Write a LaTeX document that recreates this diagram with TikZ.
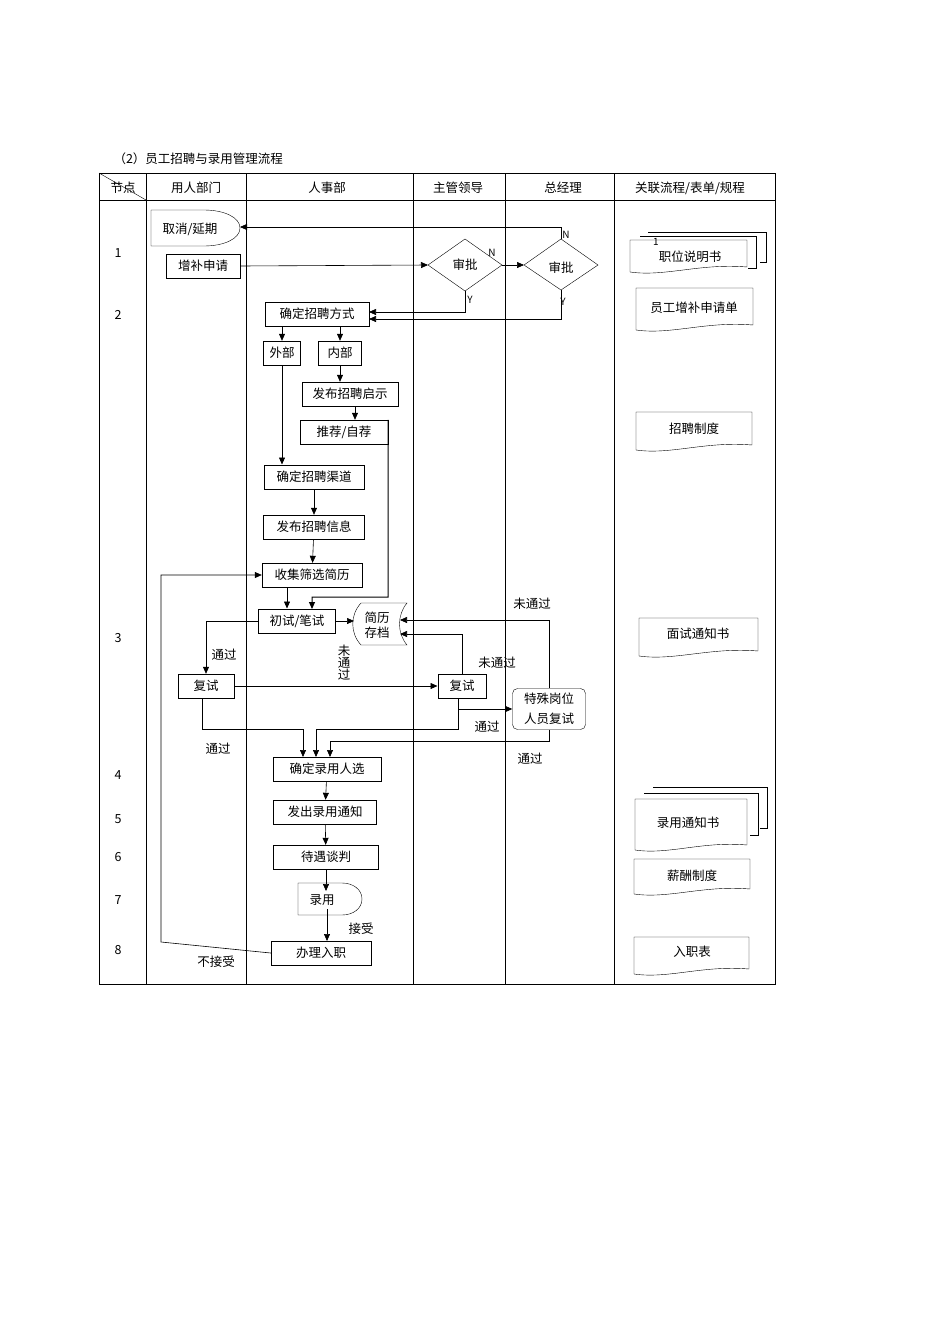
\documentclass[tikz,border=0pt]{standalone}
\usepackage{fontspec}
\setmainfont{Noto Sans CJK SC}
\usetikzlibrary{arrows.meta}
\newcommand\DocShape[4]{% x1 y1 x2 y2
  \draw (#1,#2) -- (#3,#2) -- (#3,{#4-6}) .. controls ({#1+0.6*(#3-#1)},{#4-10}) and ({#1+0.3*(#3-#1)},{#4+4}) .. (#1,{#4-1}) -- cycle;}
\newcommand\DelayShape[5]{% x1 y1 x2 y2 rx
  \draw (#1,#2) -- ({#3-#5},#2) .. controls ({#3-0.45*#5},#2) and (#3,{#2+0.2*(#4-#2)}) .. (#3,{(#2+#4)/2})
   .. controls (#3,{#4-0.2*(#4-#2)}) and ({#3-0.45*#5},#4) .. ({#3-#5},#4) -- (#1,#4) -- cycle;}
\begin{document}
\begin{tikzpicture}[x=1pt,y=-1pt,
  every node/.style={font=\fontsize{12.5}{14}\selectfont},
  box/.style={draw,inner sep=0pt,minimum height=24pt},
  lab/.style={inner sep=1pt},
  arr/.style={-{Triangle[length=7pt,width=6pt]}},
  ln/.style={line width=0.6pt}]
\useasboundingbox (0,0) rectangle (950,1344);
% title
\node[anchor=west] (title) at (110,159) {（2）员工招聘与录用管理流程};
% table
\draw[line width=1pt] (99,173) rectangle (775,984);
\draw (99,200) -- (775,200);
\foreach \x in {146,246,413,505,614} \draw (\x,173) -- (\x,984);
\draw (99,173) -- (146,200);
\node (h0) at (123,188) {节点};
\node (h1) at (196,188) {用人部门};
\node (h2) at (327,188) {人事部};
\node (h3) at (458,188) {主管领导};
\node (h4) at (563,188) {总经理};
\node (h5) at (690,188) {关联流程/表单/规程};
\foreach \n/\y in {1/253,2/315,3/638,4/775,5/819,6/857,7/900,8/950} \node (r\n) at (118,\y) {\n};
% cancel / 录用 delay shapes
\DelayShape{151}{210}{240}{246}{36}
\node (cancel) at (190,229) {取消/延期};
\coordinate (cancelE) at (240,227);
\node[box,minimum width=74pt] (zb) at (203,266) {增补申请};
\draw (428,265) -- (465,239) -- (502,265) -- (465,291) -- cycle;
\node (d1) at (465,265) {审批};
\coordinate (d1W) at (428,265); \coordinate (d1E) at (502,265); \coordinate (d1S) at (465,291);
\draw (524,265) -- (561,239) -- (598,265) -- (561,290) -- cycle;
\node (d2) at (561,268) {审批};
\coordinate (d2W) at (524,265); \coordinate (d2N) at (561,239); \coordinate (d2S) at (561,290);
\node[lab,font=\fontsize{10}{11}\selectfont] (n1) at (492,253) {N};
\node[lab,font=\fontsize{10}{11}\selectfont] (n2) at (566,235) {N};
\node[lab,font=\fontsize{10}{11}\selectfont] (y1) at (470,300) {Y};
\node[lab,font=\fontsize{10}{11}\selectfont] (y2) at (563,302) {Y};
\node[box,minimum width=104pt,line width=1pt] (fs) at (317,314) {确定招聘方式};
\coordinate (fsA) at (369,312); \coordinate (fsB) at (369,319);
\node[box,minimum width=37pt] (wb) at (282,353) {外部};
\node[box,minimum width=43pt] (nb) at (340,353) {内部};
\node[box,minimum width=96pt] (fb) at (350,394) {发布招聘启示};
\node[box,minimum width=88pt] (tj) at (344,432) {推荐/自荐};
\node[box,minimum width=100pt,line width=1pt] (qd) at (314,477) {确定招聘渠道};
\node[box,minimum width=101pt] (xx) at (314,527) {发布招聘信息};
\node[box,minimum width=100pt] (sj) at (312,575) {收集筛选简历};
\node[box,minimum width=77pt,line width=1pt] (cs) at (297,621) {初试/笔试};
% storage
\draw (361,603) -- (407,603) .. controls (397,615) and (397,633) .. (407,645) -- (361,645) .. controls (350,633) and (350,615) .. (361,603) -- cycle;
\node[align=center,font=\fontsize{12.5}{15}\selectfont] (store) at (377,625) {简历\\存档};
\coordinate (stA) at (400,620); \coordinate (stB) at (400,634);
\node[box,minimum width=56pt] (fs1) at (206,686) {复试};
\node[box,minimum width=48pt,line width=1pt] (fs2) at (462,686) {复试};
\node[draw,rounded corners=5pt,align=center,minimum width=73pt,minimum height=41pt,inner sep=0pt,font=\fontsize{12.5}{20}\selectfont] (ts) at (549,709) {特殊岗位\\人员复试};
\node[box,minimum width=108pt] (ly) at (327,769) {确定录用人选};
\node[box,minimum width=103pt] (fc) at (325,812) {发出录用通知};
\node[box,minimum width=105pt] (dy) at (326,857) {待遇谈判};
\DelayShape{298}{883}{362}{915}{20}
\node (lu) at (322,900) {录用};
\node[box,minimum width=100pt] (bl) at (321,953) {办理入职};
% labels
\node[lab] (l1) at (224,655) {通过};
\node[lab,align=center,font=\fontsize{12.5}{12}\selectfont] (l2) at (344,663) {未\\通\\过};
\node[lab] (l3) at (497,663) {未通过};
\node[lab] (l4) at (532,604) {未通过};
\node[lab] (l5) at (487,727) {通过};
\node[lab] (l6) at (218,749) {通过};
\node[lab] (l7) at (530,759) {通过};
\node[lab] (l8) at (361,929) {接受};
\node[lab] (l9) at (216,962) {不接受};
% connectors
\begin{scope}[ln]
\draw[arr] (d2N) |- (cancelE);
\draw[arr] (zb.east) -- (d1W);
\draw[arr] (d1E) -- (d2W);
\draw[arr] (d1S) |- (fsA);
\draw[arr] (d2S) |- (fsB);
\draw[arr] (wb|-fs.south) -- (wb.north);
\draw[arr] (nb|-fs.south) -- (nb.north);
\draw[arr] (nb.south) -- (nb|-fb.north);
\draw[arr] ([xshift=5pt]fb.south) -- ([xshift=5pt]fb.south|-tj.north);
\draw[arr] (wb.south) -- (wb.south|-qd.north);
\draw[arr] (qd) -- (xx);
\draw[arr] (xx) -- (sj);
\coordinate (tjc) at (388,597); \coordinate (csin) at (312,609);
\draw[arr,line width=1pt] (tj.north east) -- (tjc) -| (csin);
\draw[arr] ([xshift=-25pt]sj.south) -- ([xshift=-25pt]sj.south|-cs.north);
\draw[arr] (cs.east) -- (354,621);
\draw[arr] (cs.west) -| (fs1.north);
\draw[arr] (fs1.east) -- (fs2.west);
\draw[arr] (fs2.north) |- (stB);
\draw[arr] ([xshift=-4pt]fs2.south) |- (ts.west);
\draw[arr] (ts.north) |- (stA);
\coordinate (m1) at (303,757); \coordinate (m2) at (316,757); \coordinate (m3) at (330,757);
\draw[arr] (fs1.south-|202,0) -- (202,729) -| (m1);
\draw[arr] (458,698) -- (458,729) -| (m2);
\draw[arr] (ts.south) -- (549,741) -| (m3);
\draw[arr] (ly) -- (fc);
\draw[arr] (fc) -- (dy);
\draw[arr] (dy.south) -- (dy.south|-lu.north);
\draw[arr] (lu.south-|327,0) -- (327,941);
\draw[arr] (bl.west) -- (161,942) |- (sj.west);
\end{scope}
% documents
\draw (648,232) -- (766,232) -- (766,262) -- (760,262);
\draw (640,236) -- (756,236) -- (756,268) -- (748,268);
\DocShape{630}{240}{747}{273}
\node (doc1) at (690,257) {职位说明书};
\node[font=\fontsize{10}{11}\selectfont] (one) at (656,242) {1};
\DocShape{636}{288}{753}{331}
\node (doc2) at (694,308) {员工增补申请单};
\DocShape{636}{412}{752}{451}
\node (doc3) at (694,429) {招聘制度};
\DocShape{639}{618}{758}{657}
\node (doc4) at (698,634) {面试通知书};
\draw (653,787) -- (767,787) -- (767,828) -- (760,828);
\draw (644,793) -- (758,793) -- (758,835) -- (750,835);
\DocShape{635}{799}{747}{851}
\node (doc5) at (688,823) {录用通知书};
\DocShape{634}{859}{750}{895}
\node (doc6) at (692,876) {薪酬制度};
\DocShape{634}{937}{749}{975}
\node (doc7) at (692,952) {入职表};
\end{tikzpicture}
\end{document}
